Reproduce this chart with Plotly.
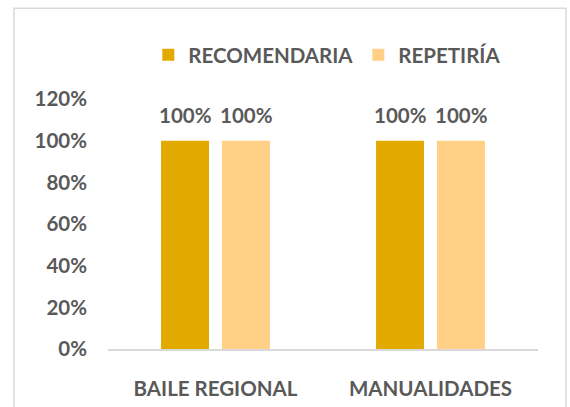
import plotly.graph_objects as go

categories = ["BAILE REGIONAL", "MANUALIDADES"]
recomendaria = [1.0, 1.0]
repetiria = [1.0, 1.0]
y_ticks = [0, 0.2, 0.4, 0.6, 0.8, 1.0, 1.2]

FONT = "Lato"
SIZE = 20.5
GREY = "#595959"
DARK = "#E2A900"
LIGHT = "#FFD086"

fig = go.Figure()
fig.add_trace(go.Bar(x=categories, y=recomendaria, name="RECOMENDARIA",
                     marker=dict(color=DARK, line=dict(width=0))))
fig.add_trace(go.Bar(x=categories, y=repetiria, name="REPETIRÍA",
                     marker=dict(color=LIGHT, line=dict(width=0))))

# data labels above the bars
for vals, shift in [(recomendaria, -30.5), (repetiria, 30.5)]:
    for cat, v in zip(categories, vals):
        fig.add_annotation(x=cat, y=v, text=f"{v:.0%}", showarrow=False,
                           xshift=shift, yshift=26, xref="x", yref="y",
                           font=dict(family=FONT, size=SIZE, color=GREY, weight="bold"))

# outer chart border
fig.add_shape(type="rect", xref="paper", yref="paper",
              x0=-0.2186, x1=1.0651, y0=-0.25, y1=1.3633,
              line=dict(color="#D9D9D9", width=1.5))

fig.update_layout(
    width=570, height=407,
    margin=dict(l=108, r=32, t=99, b=58, autoexpand=False),
    paper_bgcolor="white", plot_bgcolor="white",
    barmode="group", bargap=0.433, bargroupgap=0.213,
    font=dict(family=FONT, size=SIZE, color=GREY),
    legend=dict(orientation="h", x=0.51, xanchor="center", y=1.176,
                yanchor="middle",
                font=dict(family=FONT, size=SIZE, color=GREY, weight="bold"),
                itemclick=False),
    xaxis=dict(showgrid=False, showline=True, linecolor="#D9D9D9", linewidth=1.5,
               ticks="", ticklabelstandoff=21,
               tickfont=dict(family=FONT, size=SIZE, color=GREY, weight="bold")),
    yaxis=dict(range=[0, 1.2], tickvals=y_ticks, tickformat=".0%",
               showgrid=False, zeroline=False, showline=False, ticks="",
               ticklabelstandoff=20,
               tickfont=dict(family=FONT, size=SIZE, color=GREY, weight="bold")),
)

fig.write_html("out.html", config={"displayModeBar": False},
               post_script="document.body.style.margin='0';")
